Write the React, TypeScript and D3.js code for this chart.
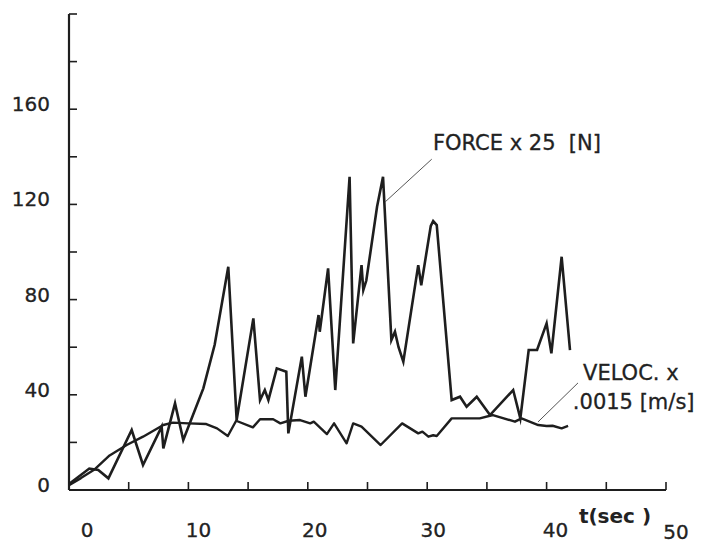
import React from "react";
import * as d3 from "d3";

// Force x 25 [N] series (time in sec, value in chart units)
const forceT = [0, 1.7, 2.45, 3.3, 5.25, 6.2, 7.76, 7.9, 8.88, 9.57, 11.25, 12.2, 13.34, 14.04, 15.44, 16.0, 16.4, 16.7, 17.4, 18.2, 18.37, 19.5, 19.8, 20.9, 21.0, 21.7, 22.3, 23.5, 23.8, 24.5, 24.65, 24.9, 25.8, 26.3, 27.0, 27.3, 27.6, 28.0, 29.25, 29.5, 30.3, 30.5, 30.8, 32.05, 32.75, 33.3, 34.15, 35.26, 37.2, 37.8, 38.5, 39.2, 40.0, 40.4, 41.26, 41.96];
const forceV = [2.5, 9, 8.4, 4.9, 25.2, 10.5, 26.6, 17.5, 36.4, 21, 42.7, 61, 93.8, 29.4, 72.1, 37.8, 42, 37.8, 51.1, 49.7, 23.8, 56, 39.2, 73.5, 66.5, 93.1, 42, 131.6, 61.6, 94.5, 84, 88, 119, 131.6, 63, 66.5, 60, 53.9, 94.5, 86, 111, 113, 111.3, 37.8, 39.2, 35, 39.2, 31.5, 42, 30.1, 58.8, 58.8, 70, 57.4, 98, 58.8];

// Velocity x .0015 [m/s] series
const velT = [0, 1.0, 2.1, 3.4, 4.83, 6.2, 7.9, 8.7, 10.0, 11.5, 12.4, 13.3, 14.0, 15.4, 16.0, 17.1, 17.7, 18.4, 19.35, 20.2, 20.5, 21.6, 22.2, 23.25, 23.8, 24.5, 26.1, 27.9, 29.25, 29.6, 30.1, 30.5, 30.8, 32.05, 34.4, 35.5, 37.35, 37.9, 39.3, 40.0, 40.5, 41.26, 41.8];
const velV = [2, 5, 8.5, 14.5, 18.9, 22.4, 27.3, 28.3, 28, 27.7, 25.9, 22.7, 29.1, 26.3, 29.7, 29.7, 28, 29.1, 29.4, 28, 28.7, 23.5, 28, 19.6, 28, 26.6, 18.9, 28, 23.8, 24.5, 22.4, 23, 22.7, 30.1, 30.1, 31.5, 28.7, 30.1, 27.3, 26.9, 27, 25.9, 26.9];

const xTicks = [0, 5, 10, 15, 20, 25, 30, 35, 40, 45, 50];
const xTickLabels = [0, 10, 20, 30, 40, 50];
const xLabelShift = [18, 10, 7, 6, 9, 10];
const yTicks = [0, 20, 40, 60, 80, 100, 120, 140, 160, 180, 200];
const yTickLabels = [0, 40, 80, 120, 160];

const forceLabel = "FORCE x 25  [N]";
const velLabel1 = "VELOC. x";
const velLabel2 = ".0015 [m/s]";
const xTitle = "t(sec )";

export default function App() {
  const W = 704, H = 544;
  const x = d3.scaleLinear().domain([0, 50]).range([69, 666]);
  const y = d3.scaleLinear().domain([0, 200]).range([490, 14]);
  const mk = (ts: number[], vs: number[]) =>
    d3.line<[number, number]>().x(d => x(d[0])).y(d => y(d[1]))(ts.map((t, i) => [t, vs[i]] as [number, number])) || "";
  const ink = "#1e1e1e";
  const txt = "#222";
  const font = "'DejaVu Sans', sans-serif";
  return (
    <svg width={W} height={H} style={{ position: "absolute", left: 0, top: 0, background: "#fff" }}>
      {/* axes */}
      <line x1={x(0)} x2={x(0)} y1={y(0)} y2={y(200)} stroke={ink} strokeWidth={2.2} />
      <line x1={x(0)} x2={x(50)} y1={y(0)} y2={y(0)} stroke={ink} strokeWidth={2.2} />
      {yTicks.map(v => (
        <line key={"yt" + v} x1={x(0)} x2={x(0) + 8} y1={y(v)} y2={y(v)} stroke={ink} strokeWidth={1.6} />
      ))}
      {xTicks.map(v => (
        <line key={"xt" + v} x1={x(v)} x2={x(v)} y1={y(0)} y2={y(0) - 8} stroke={ink} strokeWidth={1.6} />
      ))}
      {yTickLabels.map(v => (
        <text key={"yl" + v} x={x(0) - 19} y={y(v) - 5} textAnchor="end" dominantBaseline="central"
          fontFamily={font} fontSize={20} fill={txt} stroke={txt} strokeWidth={0.3}>{v}</text>
      ))}
      {xTickLabels.map((v, i) => (
        <text key={"xl" + v} x={x(v) + xLabelShift[i]} y={v === 50 ? 532 : 530} textAnchor="middle" dominantBaseline="central"
          fontFamily={font} fontSize={20} fill={txt} stroke={txt} strokeWidth={0.3}>{v}</text>
      ))}
      <text x={615} y={516} textAnchor="middle" dominantBaseline="central" fontFamily={font} fontSize={20}
        fontWeight="bold" fill={txt} style={{ whiteSpace: "pre" }}>{xTitle}</text>

      {/* data */}
      <path d={mk(velT, velV)} fill="none" stroke={ink} strokeWidth={2.4} strokeLinejoin="round" />
      <path d={mk(forceT, forceV)} fill="none" stroke={ink} strokeWidth={2.6} strokeLinejoin="miter" strokeMiterlimit={6} />

      {/* annotations */}
      <line x1={x(26.47)} y1={y(121)} x2={x(30.38)} y2={y(139)} stroke="#555" strokeWidth={1} />
      <text x={x(30.48)} y={y(145.8)} dominantBaseline="central" fontFamily={font} fontSize={21} fill={txt} stroke={txt} strokeWidth={0.3} style={{ whiteSpace: "pre" }}>{forceLabel}</text>
      <line x1={x(39.28)} y1={y(28.6)} x2={x(42.63)} y2={y(45)} stroke="#555" strokeWidth={1} />
      <text x={x(43.05)} y={y(49.2)} dominantBaseline="central" fontFamily={font} fontSize={21} fill={txt} stroke={txt} strokeWidth={0.3}>{velLabel1}</text>
      <text x={x(42.2)} y={y(37)} dominantBaseline="central" fontFamily={font} fontSize={21} fill={txt} stroke={txt} strokeWidth={0.3}>{velLabel2}</text>
    </svg>
  );
}
